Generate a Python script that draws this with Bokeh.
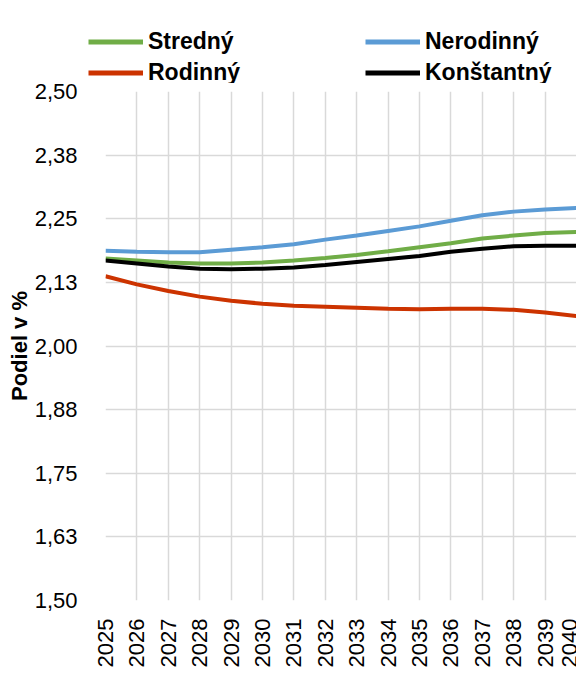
import math
from bokeh.plotting import figure
from bokeh.layouts import column, row
from bokeh.models import Legend, LegendItem, FixedTicker
from bokeh.embed import file_html
from bokeh.resources import INLINE

years = list(range(2025, 2041))
stredny = [2.172, 2.168, 2.164, 2.162, 2.162, 2.164, 2.168, 2.173, 2.179, 2.186,
           2.194, 2.202, 2.211, 2.217, 2.222, 2.224]
nerodinny = [2.187, 2.185, 2.184, 2.184, 2.189, 2.194, 2.200, 2.209, 2.217, 2.226,
             2.235, 2.246, 2.257, 2.264, 2.268, 2.271]
rodinny = [2.137, 2.121, 2.108, 2.097, 2.089, 2.083, 2.079, 2.077, 2.075, 2.073,
           2.072, 2.073, 2.073, 2.071, 2.066, 2.059]
konstantny = [2.168, 2.162, 2.156, 2.152, 2.151, 2.152, 2.154, 2.159, 2.165, 2.171,
              2.177, 2.185, 2.191, 2.196, 2.197, 2.197]

y_ticks = [1.5, 1.625, 1.75, 1.875, 2.0, 2.125, 2.25, 2.375, 2.5]
y_tick_labels = ["1,50", "1,63", "1,75", "1,88", "2,00", "2,13", "2,25", "2,38", "2,50"]
x_tick_labels = [str(y) for y in years]

series = {"Stredný": stredny, "Rodinný": rodinny,
          "Nerodinný": nerodinny, "Konštantný": konstantny}
series_colors = {"Stredný": "#70ad47", "Rodinný": "#cc3300",
                 "Nerodinný": "#5b9bd5", "Konštantný": "#000000"}

FONT = "Liberation Sans"

# ---------------- main chart ----------------
p = figure(frame_width=471, frame_height=509,
           min_border_left=105, min_border_right=0, min_border_top=8, min_border_bottom=0,
           x_range=(2025, 2040), y_range=(1.5, 2.5),
           output_backend="svg", toolbar_location=None)
p.outline_line_color = None
p.background_fill_color = "white"
p.border_fill_color = "white"

p.xgrid.ticker = FixedTicker(ticks=years)
p.ygrid.ticker = FixedTicker(ticks=y_ticks)
for g in (p.xgrid, p.ygrid):
    g.grid_line_color = "#d9d9d9"
    g.grid_line_width = 1.5

xa = p.xaxis[0]
xa.ticker = FixedTicker(ticks=years)
xa.major_label_overrides = {y: s for y, s in zip(years, x_tick_labels)}
xa.major_label_orientation = math.pi / 2
xa.axis_line_color = None
xa.major_tick_line_color = None
xa.minor_tick_line_color = None
xa.major_label_standoff = 12
xa.major_label_text_font = FONT
xa.major_label_text_font_size = "22px"
xa.major_label_text_color = "#000000"

ya = p.yaxis[0]
ya.ticker = FixedTicker(ticks=y_ticks)
ya.major_label_overrides = {t: s for t, s in zip(y_ticks, y_tick_labels)}
ya.axis_line_color = None
ya.major_tick_line_color = None
ya.minor_tick_line_color = None
ya.major_label_standoff = 22
ya.major_label_text_font = FONT
ya.major_label_text_font_size = "22px"
ya.major_label_text_color = "#000000"
ya.axis_label = "Podiel v %"
ya.axis_label_text_font = FONT
ya.axis_label_text_font_style = "bold"
ya.axis_label_text_font_size = "22px"
ya.axis_label_text_color = "#000000"
ya.axis_label_standoff = 0

for n in ["Nerodinný", "Stredný", "Konštantný", "Rodinný"]:
    p.line(years, series[n], line_color=series_colors[n], line_width=4)

# ---------------- legend strip ----------------
lf = figure(width=576, height=83, min_border=0, x_range=(0, 1), y_range=(0, 1),
            output_backend="svg", toolbar_location=None)
lf.axis.visible = False
lf.grid.visible = False
lf.outline_line_color = None
lf.background_fill_color = "white"
lf.border_fill_color = "white"

# legend swatches: same series, lying outside this strip's visible range
swatch = {n: lf.line(years, series[n], line_color=series_colors[n], line_width=5)
          for n in series}

def make_legend(names, loc):
    return Legend(items=[LegendItem(label=n, renderers=[swatch[n]]) for n in names],
                  location=loc, orientation="vertical",
                  glyph_width=55, glyph_height=25, label_height=25,
                  label_standoff=5, spacing=4, padding=0, margin=0,
                  border_line_color=None, background_fill_alpha=0,
                  label_text_font=FONT, label_text_font_style="bold",
                  label_text_font_size="23px", label_text_color="#000000")

lf.add_layout(make_legend(["Stredný", "Rodinný"], (88, -3)))
lf.add_layout(make_legend(["Nerodinný", "Konštantný"], (365, -3)))

layout = column(row(lf), p, spacing=0)
open("out.html", "w").write(file_html(layout, INLINE))
